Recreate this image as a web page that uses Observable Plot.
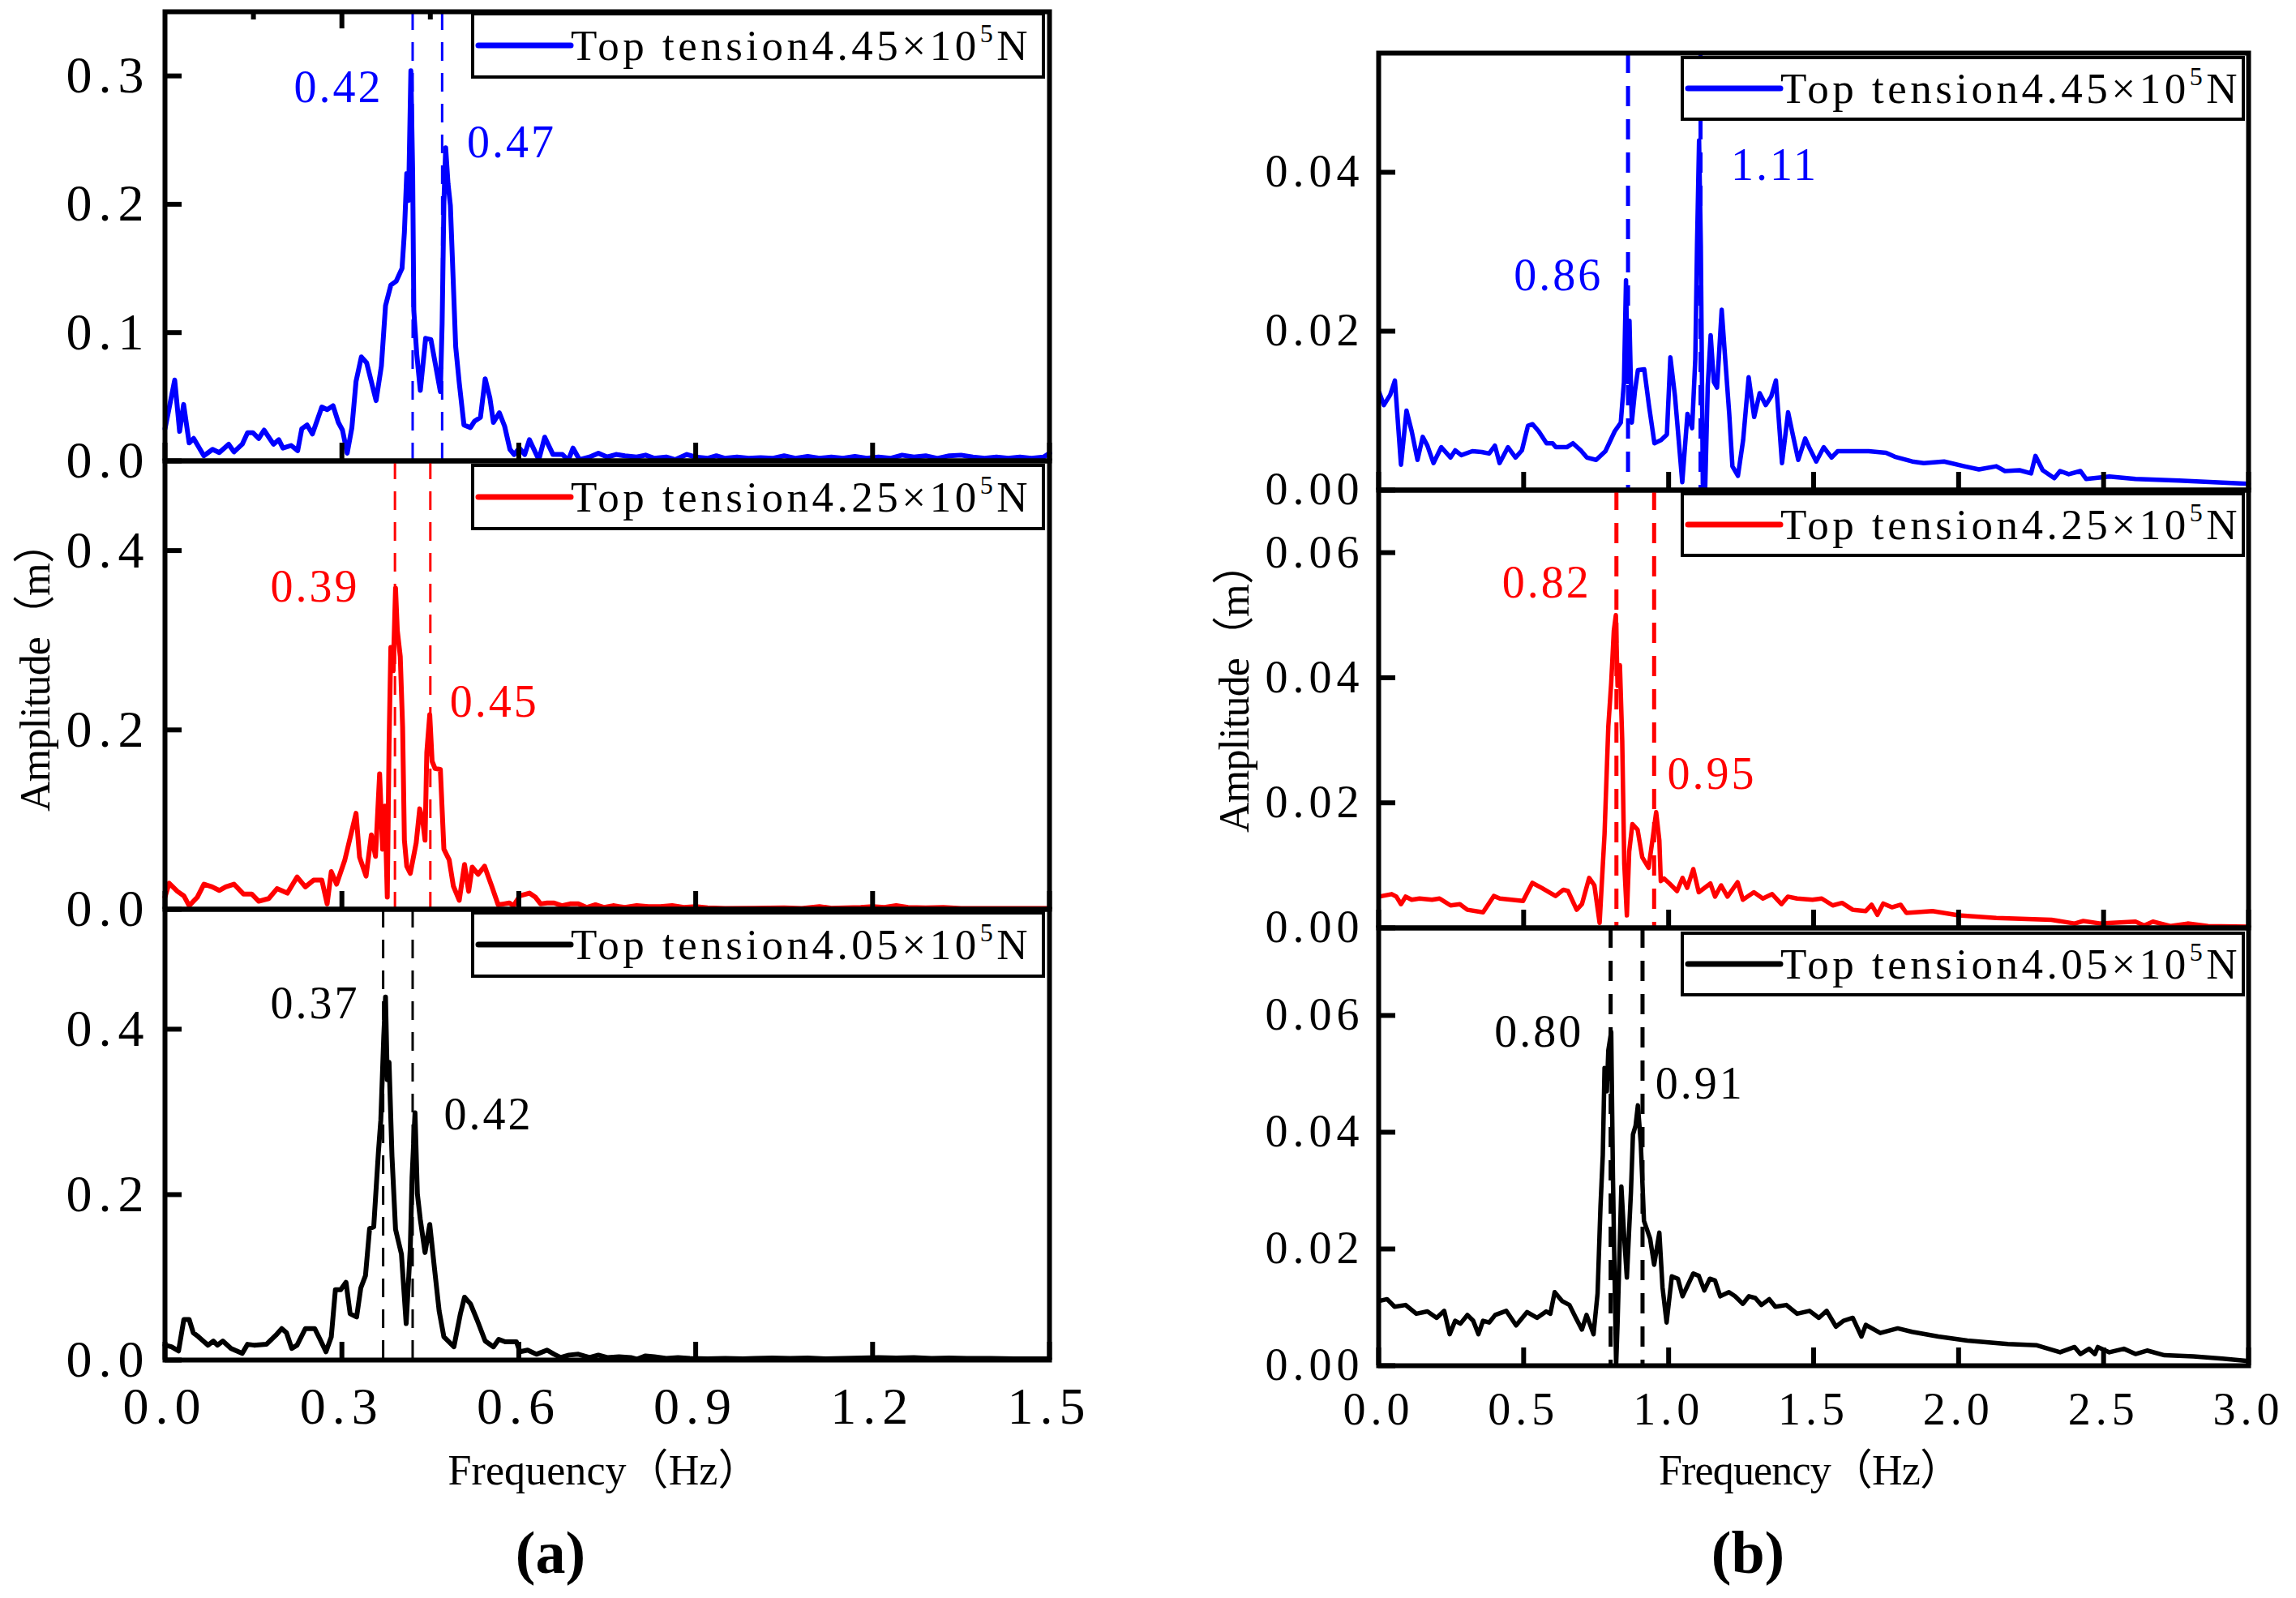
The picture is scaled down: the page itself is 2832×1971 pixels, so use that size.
<!DOCTYPE html>
<html><head><meta charset="utf-8">
<script src="https://cdn.jsdelivr.net/npm/d3@7"></script>
<script src="https://cdn.jsdelivr.net/npm/@observablehq/plot@0.6"></script>
<style>
html,body{margin:0;padding:0;background:#fff;}
#root{position:relative;width:2832px;height:1971px;background:#fff;overflow:hidden;}
#root svg{position:absolute;overflow:visible;}
</style></head><body><div id="root"></div>
<script>
// ---------------- DATA ----------------
const tensions = ["4.45", "4.25", "4.05"];
const xTicksA = [0, 0.3, 0.6, 0.9, 1.2, 1.5];
const xTicksB = [0, 0.5, 1.0, 1.5, 2.0, 2.5, 3.0];
const topMajorA = [0.3, 0.6, 0.9, 1.2];
const topMinorA = [0.15, 0.45, 0.75, 1.05, 1.35];

// (a) 4.45e5 N
const fA445 = [0,0.0165,0.0248,0.0316,0.041,0.0486,0.066,0.0807,0.092,0.108,0.117,0.131,0.140,0.149,0.159,0.168,0.184,0.193,0.200,0.214,0.225,0.232,0.241,0.250,0.266,0.275,0.285,0.294,0.301,0.309,0.317,0.324,0.333,0.342,0.358,0.367,0.374,0.383,0.392,0.402,0.406,0.410,0.413,0.417,0.420,0.422,0.427,0.433,0.442,0.451,0.467,0.470,0.473,0.476,0.480,0.484,0.489,0.493,0.499,0.507,0.518,0.525,0.535,0.543,0.551,0.557,0.567,0.576,0.585,0.592,0.601,0.610,0.618,0.634,0.644,0.658,0.674,0.684,0.692,0.703,0.72,0.735,0.75,0.765,0.78,0.80,0.815,0.83,0.85,0.865,0.885,0.90,0.92,0.935,0.95,0.97,0.99,1.01,1.03,1.05,1.07,1.09,1.11,1.13,1.15,1.17,1.19,1.21,1.23,1.25,1.27,1.29,1.31,1.33,1.35,1.37,1.39,1.41,1.43,1.45,1.47,1.49,1.5];
const aA445 = [0.025,0.063,0.023,0.044,0.014,0.0175,0.004,0.009,0.0065,0.013,0.007,0.013,0.022,0.022,0.0175,0.024,0.013,0.0165,0.010,0.012,0.008,0.025,0.028,0.021,0.042,0.040,0.043,0.030,0.024,0.006,0.026,0.062,0.081,0.0765,0.047,0.074,0.121,0.137,0.140,0.150,0.178,0.224,0.203,0.304,0.226,0.117,0.083,0.055,0.0955,0.0945,0.054,0.107,0.201,0.244,0.216,0.199,0.138,0.089,0.061,0.028,0.026,0.031,0.034,0.064,0.049,0.030,0.0375,0.027,0.009,0.005,0.010,0.005,0.0165,0.001,0.0185,0.005,0.005,0.0006,0.010,0.001,0.003,0.006,0.003,0.005,0.004,0.003,0.0045,0.002,0.003,0.001,0.005,0.003,0.002,0.004,0.002,0.003,0.002,0.0025,0.002,0.004,0.002,0.0035,0.002,0.003,0.002,0.0035,0.002,0.003,0.002,0.0045,0.003,0.004,0.002,0.004,0.0045,0.003,0.002,0.003,0.002,0.003,0.002,0.003,0.006];

// (a) 4.25e5 N
const fA425 = [0,0.007,0.021,0.032,0.041,0.055,0.066,0.080,0.092,0.103,0.117,0.133,0.147,0.159,0.176,0.190,0.2075,0.224,0.238,0.252,0.266,0.275,0.282,0.291,0.305,0.324,0.330,0.341,0.350,0.357,0.364,0.369,0.373,0.377,0.380,0.383,0.387,0.391,0.394,0.399,0.403,0.406,0.410,0.416,0.426,0.432,0.437,0.441,0.444,0.449,0.453,0.458,0.467,0.473,0.482,0.489,0.499,0.508,0.515,0.521,0.531,0.542,0.554,0.565,0.575,0.584,0.591,0.602,0.618,0.628,0.637,0.648,0.660,0.673,0.687,0.701,0.715,0.73,0.745,0.76,0.78,0.80,0.82,0.84,0.86,0.88,0.90,0.92,0.95,1.0,1.05,1.08,1.11,1.13,1.18,1.20,1.22,1.24,1.26,1.29,1.32,1.35,1.40,1.45,1.5];
const aA425 = [0.0136,0.029,0.020,0.015,0.004,0.0136,0.028,0.025,0.021,0.025,0.028,0.017,0.017,0.009,0.012,0.023,0.018,0.036,0.025,0.0325,0.0325,0.006,0.042,0.028,0.055,0.107,0.058,0.037,0.083,0.059,0.151,0.067,0.115,0.0136,0.184,0.292,0.266,0.358,0.311,0.282,0.203,0.077,0.048,0.040,0.074,0.112,0.099,0.077,0.175,0.217,0.165,0.157,0.156,0.067,0.055,0.026,0.010,0.050,0.020,0.047,0.039,0.048,0.026,0.005,0.006,0.007,0.004,0.015,0.018,0.0136,0.006,0.007,0.007,0.004,0.006,0.006,0.002,0.005,0.002,0.004,0.002,0.004,0.003,0.003,0.004,0.002,0.003,0.0015,0.001,0.0012,0.0015,0.001,0.003,0.0012,0.002,0.003,0.002,0.004,0.002,0.0015,0.002,0.001,0.001,0.0008,0.001];

// (a) 4.05e5 N
const fA405 = [0,0.011,0.023,0.032,0.041,0.048,0.057,0.073,0.082,0.089,0.098,0.112,0.131,0.140,0.151,0.172,0.188,0.198,0.206,0.215,0.224,0.238,0.254,0.263,0.273,0.282,0.289,0.298,0.307,0.314,0.325,0.332,0.340,0.347,0.354,0.362,0.366,0.371,0.374,0.377,0.380,0.385,0.391,0.401,0.409,0.416,0.419,0.424,0.428,0.433,0.441,0.449,0.457,0.465,0.473,0.490,0.501,0.508,0.518,0.529,0.543,0.557,0.566,0.577,0.596,0.602,0.615,0.630,0.648,0.660,0.671,0.685,0.701,0.72,0.735,0.75,0.77,0.79,0.80,0.815,0.83,0.85,0.87,0.89,0.92,0.95,0.98,1.0,1.03,1.06,1.09,1.12,1.15,1.18,1.21,1.24,1.27,1.30,1.33,1.36,1.40,1.44,1.47,1.5];
const aA405 = [0.018,0.016,0.011,0.049,0.049,0.033,0.028,0.018,0.023,0.018,0.023,0.014,0.008,0.019,0.018,0.019,0.030,0.038,0.033,0.014,0.018,0.038,0.038,0.025,0.010,0.028,0.085,0.085,0.094,0.056,0.052,0.087,0.102,0.159,0.161,0.252,0.290,0.391,0.439,0.339,0.360,0.246,0.158,0.128,0.044,0.135,0.221,0.299,0.201,0.170,0.130,0.164,0.111,0.059,0.028,0.016,0.056,0.076,0.068,0.049,0.023,0.016,0.025,0.022,0.022,0.010,0.012,0.007,0.012,0.007,0.003,0.006,0.007,0.003,0.006,0.003,0.004,0.003,0.001,0.005,0.004,0.002,0.003,0.002,0.0015,0.002,0.0015,0.002,0.0025,0.002,0.0025,0.0015,0.002,0.0025,0.003,0.0025,0.003,0.002,0.0025,0.002,0.002,0.0015,0.0015,0.0015];

// (b) 4.45e5 N
const fB445 = [0.002,0.018,0.040,0.056,0.077,0.096,0.114,0.134,0.152,0.168,0.189,0.216,0.248,0.264,0.285,0.323,0.355,0.381,0.401,0.417,0.446,0.472,0.494,0.515,0.531,0.552,0.579,0.600,0.611,0.649,0.670,0.697,0.718,0.750,0.782,0.814,0.835,0.846,0.853,0.859,0.865,0.873,0.884,0.894,0.916,0.932,0.951,0.974,0.994,1.006,1.022,1.047,1.065,1.081,1.092,1.098,1.105,1.111,1.118,1.126,1.135,1.145,1.156,1.167,1.183,1.193,1.209,1.220,1.239,1.257,1.276,1.295,1.314,1.335,1.354,1.370,1.391,1.412,1.428,1.447,1.471,1.487,1.509,1.535,1.562,1.583,1.637,1.69,1.75,1.78,1.84,1.88,1.95,2.02,2.07,2.13,2.16,2.21,2.25,2.265,2.29,2.33,2.35,2.38,2.42,2.44,2.52,2.61,2.76,3.0];
const aB445 = [0.0123,0.0107,0.012,0.0138,0.0032,0.010,0.0074,0.0038,0.0067,0.0056,0.0034,0.0054,0.0041,0.005,0.0044,0.0049,0.0048,0.0046,0.0056,0.0034,0.0054,0.0041,0.005,0.0081,0.0083,0.0074,0.0059,0.0059,0.0054,0.0054,0.0059,0.005,0.0041,0.0038,0.0049,0.0074,0.0085,0.0136,0.0264,0.0136,0.0213,0.0085,0.0125,0.0151,0.0152,0.0107,0.0059,0.0063,0.0070,0.0167,0.0118,0.001,0.0096,0.0078,0.0165,0.0308,0.0440,0.0308,0.0008,0.0001,0.0132,0.0195,0.0136,0.0129,0.0227,0.0176,0.0096,0.003,0.0018,0.0063,0.0142,0.0092,0.0122,0.0107,0.0118,0.0138,0.0034,0.0098,0.007,0.0038,0.0065,0.0052,0.0036,0.0054,0.0041,0.0049,0.0049,0.0049,0.0047,0.0042,0.0036,0.0034,0.0036,0.003,0.0026,0.003,0.0024,0.0025,0.0021,0.0043,0.0025,0.0015,0.0024,0.002,0.0024,0.0014,0.0017,0.0014,0.0012,0.0008];

// (b) 4.25e5 N
const fB425 = [0.002,0.023,0.045,0.061,0.077,0.093,0.114,0.141,0.184,0.210,0.248,0.280,0.306,0.360,0.397,0.418,0.498,0.530,0.562,0.610,0.637,0.653,0.683,0.701,0.726,0.744,0.762,0.779,0.792,0.802,0.811,0.818,0.824,0.832,0.840,0.847,0.856,0.864,0.875,0.893,0.909,0.931,0.947,0.957,0.968,0.973,0.984,1.003,1.029,1.048,1.064,1.085,1.104,1.144,1.160,1.181,1.203,1.238,1.256,1.294,1.325,1.357,1.389,1.411,1.443,1.496,1.528,1.566,1.598,1.635,1.68,1.70,1.72,1.74,1.77,1.80,1.82,1.91,2.0,2.13,2.32,2.40,2.43,2.49,2.61,2.64,2.67,2.73,2.79,2.86,3.0];
const aB425 = [0.005,0.0052,0.0054,0.005,0.0038,0.005,0.0045,0.0047,0.0045,0.0047,0.0036,0.0038,0.0029,0.0025,0.0051,0.0047,0.0043,0.0072,0.0064,0.0051,0.0061,0.0059,0.0029,0.0038,0.008,0.0068,0.0008,0.015,0.0322,0.0392,0.0475,0.0500,0.0387,0.042,0.0299,0.0103,0.002,0.0122,0.0166,0.0157,0.0113,0.0096,0.015,0.0185,0.014,0.0075,0.0079,0.0071,0.0059,0.008,0.0064,0.0094,0.0057,0.0071,0.005,0.0068,0.005,0.0073,0.0045,0.0057,0.0047,0.0054,0.0038,0.005,0.0047,0.0045,0.0047,0.0036,0.004,0.0029,0.0027,0.0037,0.0021,0.0039,0.0033,0.0037,0.0024,0.0027,0.002,0.0016,0.0013,0.0007,0.0011,0.0007,0.001,0.0004,0.001,0.0003,0.0007,0.0003,0.0002];

// (b) 4.05e5 N
const fB405 = [0.002,0.029,0.055,0.093,0.130,0.168,0.200,0.226,0.245,0.264,0.282,0.306,0.326,0.344,0.360,0.381,0.402,0.440,0.474,0.512,0.546,0.578,0.592,0.607,0.632,0.658,0.680,0.701,0.717,0.741,0.755,0.765,0.773,0.779,0.787,0.792,0.802,0.808,0.813,0.819,0.824,0.837,0.847,0.856,0.870,0.877,0.886,0.894,0.904,0.915,0.936,0.950,0.968,0.979,0.993,1.011,1.032,1.048,1.085,1.104,1.123,1.142,1.160,1.178,1.208,1.229,1.256,1.277,1.299,1.320,1.347,1.368,1.406,1.443,1.486,1.518,1.545,1.577,1.603,1.635,1.665,1.68,1.73,1.79,1.84,1.93,2.03,2.17,2.27,2.35,2.40,2.42,2.45,2.47,2.48,2.52,2.57,2.61,2.65,2.71,2.81,2.91,3.0];
const aB405 = [0.0111,0.0114,0.0101,0.0104,0.0089,0.0093,0.0082,0.0094,0.0054,0.0077,0.0072,0.0087,0.0077,0.0054,0.0077,0.0074,0.0087,0.0094,0.0069,0.0092,0.0082,0.0093,0.0089,0.0126,0.0111,0.0104,0.0082,0.0062,0.0087,0.0054,0.0124,0.0272,0.0361,0.051,0.047,0.054,0.0572,0.0322,0.0173,0.0002,0.0074,0.0307,0.0218,0.0151,0.0297,0.0396,0.0411,0.0446,0.0381,0.0248,0.0218,0.0173,0.0228,0.0134,0.0074,0.0153,0.0149,0.0119,0.0158,0.0154,0.0129,0.0149,0.0146,0.0119,0.0126,0.0119,0.0106,0.0119,0.0116,0.0104,0.0114,0.0101,0.0104,0.0089,0.0094,0.0082,0.0094,0.0067,0.0077,0.0082,0.005,0.007,0.0056,0.0064,0.0058,0.005,0.0043,0.0037,0.0035,0.0023,0.0032,0.002,0.0029,0.002,0.0032,0.0023,0.0029,0.002,0.0026,0.0018,0.0016,0.0012,0.0008];

// marked peak frequencies and their labels [left label, right label]
const peaksA445 = [0.42, 0.47], peaksA425 = [0.39, 0.45], peaksA405 = [0.37, 0.42];
const peaksB445 = [0.86, 1.11], peaksB425 = [0.82, 0.95], peaksB405 = [0.80, 0.91];
const labA445 = [{x:0.370, y:0.291, t:"0.42"}, {x:0.512, y:0.248, t:"0.47"}];
const labA425 = [{x:0.330, y:0.359, t:"0.39"}, {x:0.483, y:0.231, t:"0.45"}];
const labA405 = [{x:0.330, y:0.431, t:"0.37"}, {x:0.473, y:0.296, t:"0.42"}];
const labB445 = [{x:0.774, y:0.0270, t:"0.86"}, {x:1.215, y:0.0409, t:"1.11"}];
const labB425 = [{x:0.733, y:0.0551, t:"0.82"}, {x:0.995, y:0.0245, t:"0.95"}];
const labB405 = [{x:0.707, y:0.0571, t:"0.80"}, {x:0.954, y:0.0482, t:"0.91"}];

// ---------------- LAYOUT / STYLE ----------------
const FONT = "'Liberation Serif','DejaVu Serif',serif";
const COLORS = ["#0000ff", "#ff0000", "#000000"];
const COL = {
  a: {left:203, w:1091, tops:[14,568,1121], bots:[568,1121,1677], xDomain:[0,1.5], xTicks:xTicksA,
      tickFont:64, ls:8, lineW:6, dashW:3, dash:"23,15", yFmt:".1f",
      yDomains:[[0,0.35],[0,0.5],[0,0.545]], yTicks:[[0,0.1,0.2,0.3],[0,0.2,0.4],[0,0.2,0.4]],
      legend:{l:380, r:7, t:[3,6,5], h:78}},
  b: {left:1700, w:1073, tops:[65,604,1144], bots:[604,1144,1684], xDomain:[0,3], xTicks:xTicksB,
      tickFont:56, ls:6, lineW:5.5, dashW:5, dash:"25,16", yFmt:".2f",
      yDomains:[[0,0.055],[0,0.07],[0,0.075]], yTicks:[[0,0.02,0.04],[0,0.02,0.04,0.06],[0,0.02,0.04,0.06]],
      legend:{l:375, r:6, t:[6,5,7], h:76}}
};
const SERIES = {
  a: [[fA445,aA445,peaksA445,labA445],[fA425,aA425,peaksA425,labA425],[fA405,aA405,peaksA405,labA405]],
  b: [[fB445,aB445,peaksB445,labB445],[fB425,aB425,peaksB425,labB425],[fB405,aB405,peaksB405,labB405]]
};
const AXW = 6;

const root = document.getElementById("root");

function drawPanel(colKey, i) {
  const C = COL[colKey];
  const [fs, as, peaks, labs] = SERIES[colKey][i];
  const color = COLORS[i];
  const isBottom = i === 2;
  const fw = C.w, fh = C.bots[i] - C.tops[i];
  const mL = 200, mR = 60, mT = 10, mB = isBottom ? 110 : 10;
  const data = fs.map((f, k) => ({f, a: as[k]}));
  const marks = [
    Plot.ruleX(peaks, {x: d => d, stroke: color, strokeWidth: C.dashW, strokeDasharray: C.dash}),
    Plot.line(data, {x: "f", y: "a", stroke: color, strokeWidth: C.lineW, strokeLinejoin: "round"}),
    Plot.tickY(C.yTicks[i], {y: d => d, insetRight: fw - 21, stroke: "black", strokeWidth: AXW}),
    Plot.tickX(C.xTicks, {x: d => d, insetTop: fh - 22, stroke: "black", strokeWidth: AXW}),
    Plot.axisY(C.yTicks[i], {tickSize: 0, tickPadding: 18, tickFormat: d3.format(C.yFmt),
      fontSize: C.tickFont, fontFamily: FONT, label: null}),
    Plot.text([labs[0]], {x: "x", y: "y", text: "t", textAnchor: "end", fill: color, fontSize: 56, fontFamily: FONT}),
    Plot.text([labs[1]], {x: "x", y: "y", text: "t", textAnchor: "start", fill: color, fontSize: 56, fontFamily: FONT}),
    Plot.frame({stroke: "black", strokeWidth: AXW})
  ];
  if (colKey === "a" && i === 0) {
    marks.push(Plot.tickX(topMajorA, {x: d => d, insetBottom: fh - 21, stroke: "black", strokeWidth: AXW}));
    marks.push(Plot.tickX(topMinorA, {x: d => d, insetBottom: fh - 10, stroke: "black", strokeWidth: AXW}));
  }
  if (isBottom) {
    marks.push(Plot.axisX(C.xTicks, {tickSize: 0, tickPadding: 33, tickFormat: d3.format(".1f"),
      fontSize: C.tickFont, fontFamily: FONT, label: null}));
  }
  const svg = Plot.plot({
    width: mL + fw + mR, height: mT + fh + mB,
    marginLeft: mL, marginRight: mR, marginTop: mT, marginBottom: mB,
    x: {domain: C.xDomain, axis: isBottom ? undefined : null},
    y: {domain: C.yDomains[i]},
    style: {background: "transparent", overflow: "visible", fontFamily: FONT, color: "black"},
    marks
  });
  svg.style.left = (C.left - mL) + "px";
  svg.style.top = (C.tops[i] - mT) + "px";
  svg.style.maxWidth = "none";
  svg.querySelectorAll('[aria-label="y-axis tick label"] text, [aria-label="x-axis tick label"] text')
    .forEach(t => t.setAttribute("letter-spacing", C.ls));
  svg.querySelectorAll('[aria-label="text"] text').forEach(t => t.setAttribute("letter-spacing", 3));

  // legend box (drawn on top)
  const L = C.legend;
  const bx = mL + L.l, by = mT + L.t[i], bw = fw - L.l - L.r, bh = L.h;
  const g = d3.select(svg).append("g").attr("class", "legend").attr("text-anchor", "start");
  g.append("rect").attr("x", bx).attr("y", by).attr("width", bw).attr("height", bh)
    .attr("fill", "white").attr("stroke", "black").attr("stroke-width", 4);
  const cy = by + bh / 2;
  g.append("line").attr("x1", bx + 7).attr("x2", bx + 121).attr("y1", cy).attr("y2", cy)
    .attr("stroke", color).attr("stroke-width", 7).attr("stroke-linecap", "round");
  const t = g.append("text").attr("x", bx + 121).attr("y", cy + 18).attr("text-anchor", "start")
    .attr("font-family", FONT).attr("font-size", 53).attr("fill", "black").attr("letter-spacing", 4.5);
  t.append("tspan").text("Top tension" + tensions[i] + "×10");
  t.append("tspan").attr("font-size", 32).attr("dy", -22).text("5");
  t.append("tspan").attr("dy", 22).text("N");
  root.appendChild(svg);
}

for (const k of ["a", "b"]) for (let i = 0; i < 3; i++) drawPanel(k, i);

// axis titles and sub-figure tags
const ov = d3.select(root).append("svg").attr("width", 2832).attr("height", 1971)
  .style("left", "0px").style("top", "0px").style("pointer-events", "none");
const titles = [
  {x: 43, y: 822, rot: -90, text: "Amplitude（m）", len: 358},
  {x: 1522, y: 848, rot: -90, text: "Amplitude（m）", len: 358},
  {x: 745, y: 1813, rot: 0, text: "Frequency（Hz）", len: 385},
  {x: 2233, y: 1813, rot: 0, text: "Frequency（Hz）", len: 374}
];
for (const d of titles) {
  ov.append("text").attr("transform", `translate(${d.x},${d.y}) rotate(${d.rot})`)
    .attr("text-anchor", "middle").attr("dominant-baseline", "central")
    .attr("font-family", FONT + ",'Noto Sans CJK SC'").attr("font-size", 52)
    .attr("textLength", d.len).attr("lengthAdjust", "spacing").attr("fill", "black").text(d.text);
}
for (const d of [{x: 679, t: "(a)"}, {x: 2156, t: "(b)"}]) {
  ov.append("text").attr("x", d.x).attr("y", 1915).attr("text-anchor", "middle")
    .attr("dominant-baseline", "central").attr("font-family", FONT).attr("font-weight", "bold")
    .attr("font-size", 74).attr("fill", "black").text(d.t);
}
</script></body></html>
